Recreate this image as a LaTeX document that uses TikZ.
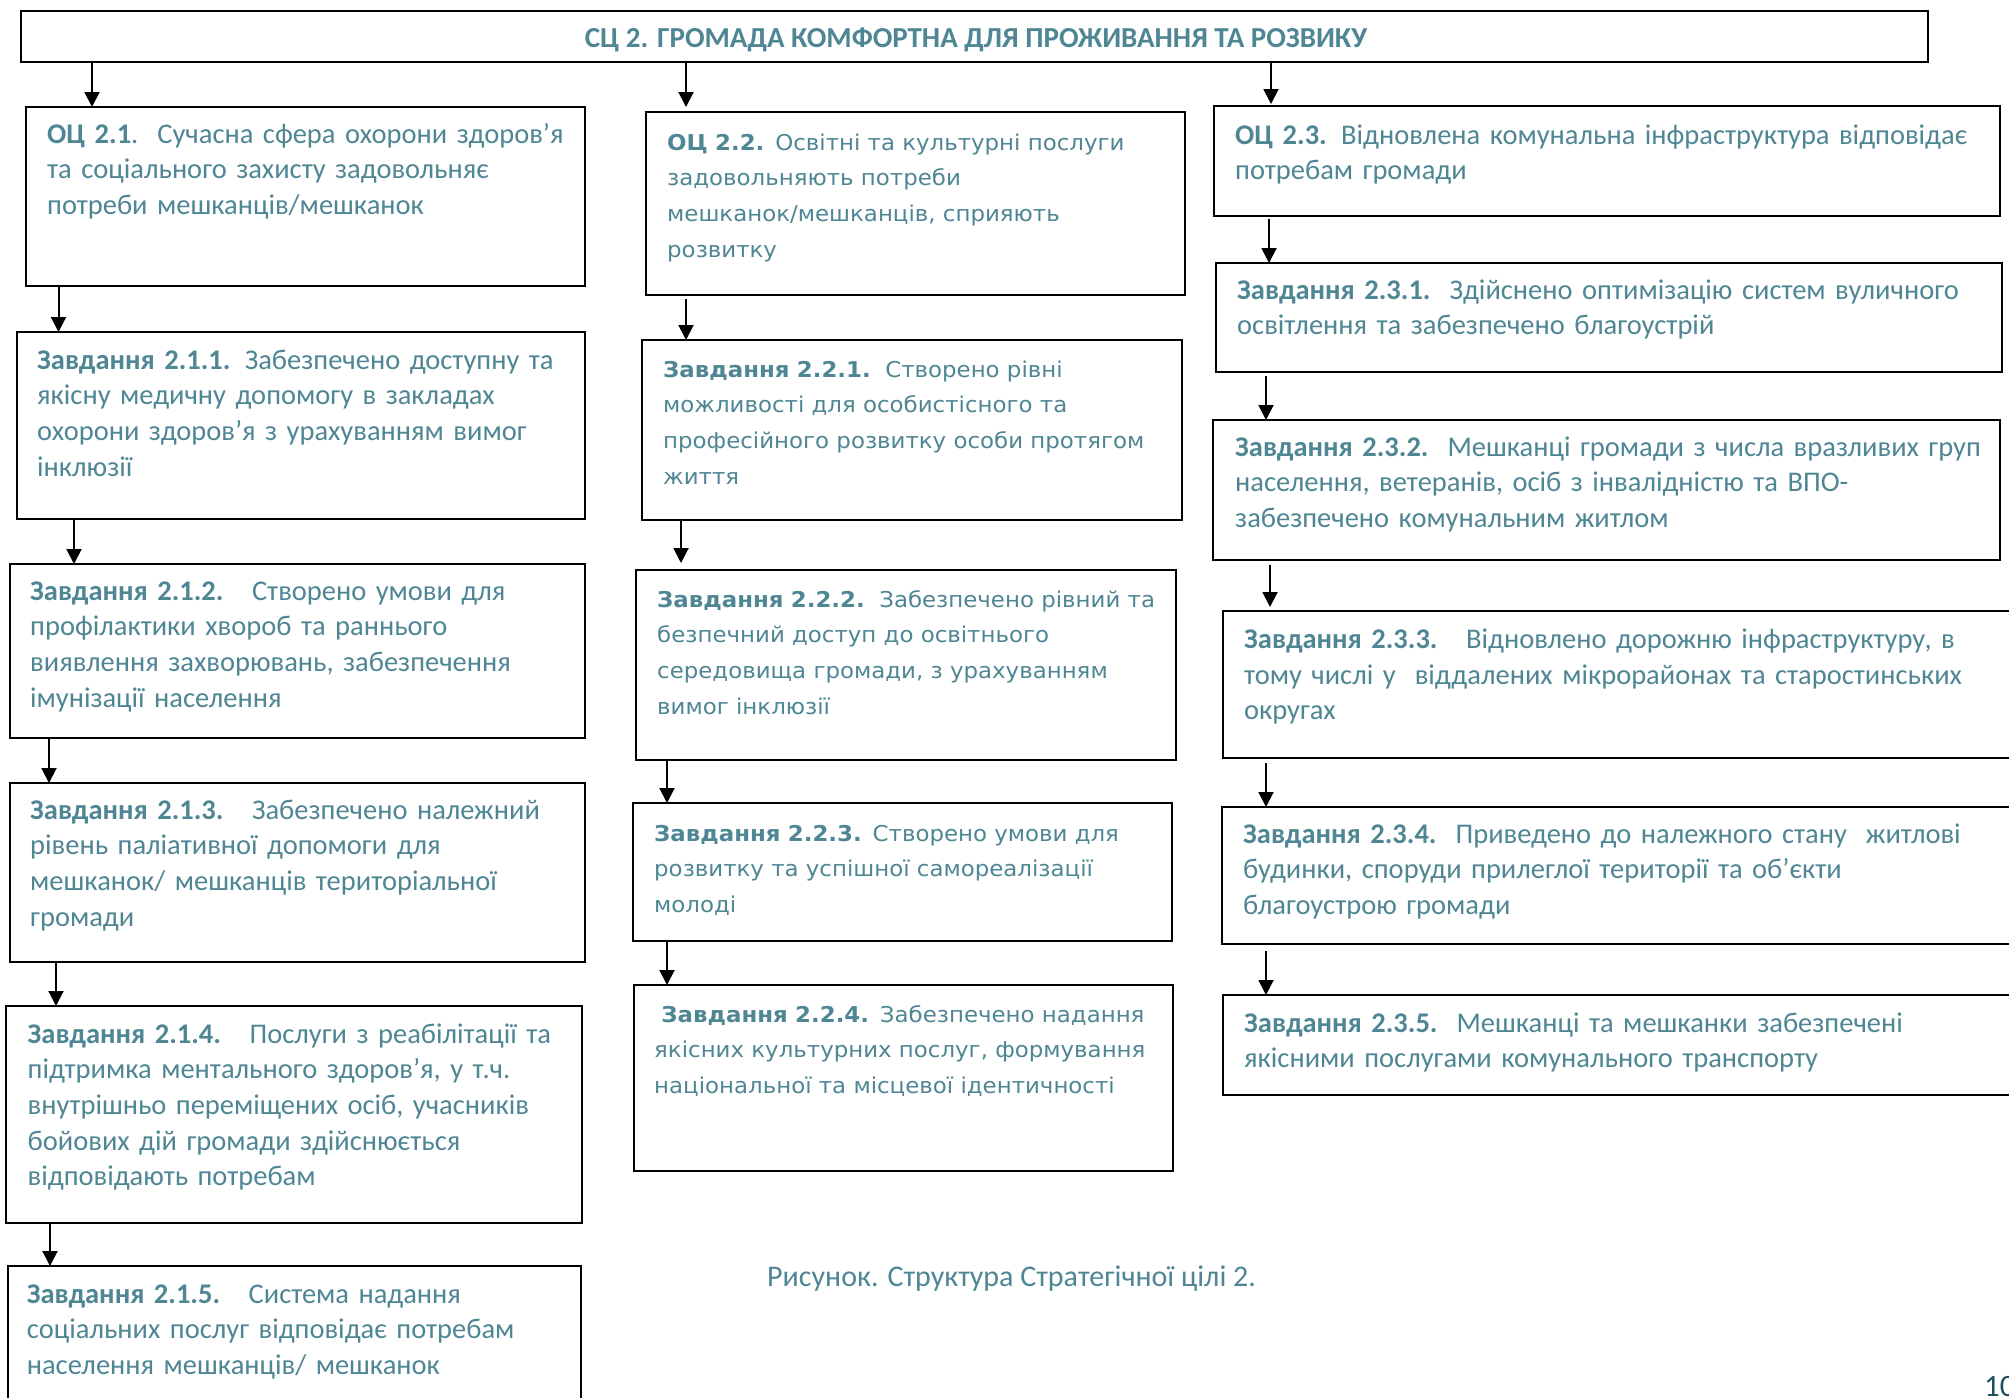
\documentclass[tikz,border=0pt]{standalone}
\usepackage{fontspec}
\setmainfont{Carlito}
\newfontfamily\verd[FakeStretch=1.05]{DejaVu Sans}
\usetikzlibrary{arrows.meta,fit,calc}
\definecolor{tx}{HTML}{4F8694}
\definecolor{pg}{HTML}{1F4E5F}
\begin{document}
\begin{tikzpicture}[x=1pt,y=-1pt,
 box/.style={draw=black, line width=2pt, inner sep=0pt, outer sep=0pt},
 arr/.style={line width=2pt, -{Triangle[length=15pt,width=15pt]}},
 ctx/.style={anchor=base west, inner sep=0pt, text width=900pt, align=left, text=tx, font=\fontsize{28.5}{35.7}\selectfont},
 vtx/.style={ctx, font=\verd\fontsize{21.8}{35.7}\selectfont},
]
\useasboundingbox (0,0) rectangle (2009,1397);
\fill[white] (0,0) rectangle (2009,1397);

% boxes
\node[box, fit={(21,11)(1928,62)}] (top) {};
\node[box, fit={(26,107)(585,286)}] (oc21) {};
\node[box, fit={(16.5,332)(585,519)}] (z211) {};
\node[box, fit={(10,564)(585,738)}] (z212) {};
\node[box, fit={(10,783)(585,962)}] (z213) {};
\node[box, fit={(6,1006)(582,1223)}] (z214) {};
\node[box, fit={(7.6,1266)(581,1420)}] (z215) {};
\node[box, fit={(646,112)(1185,295)}] (oc22) {};
\node[box, fit={(642,340)(1182,520)}] (z221) {};
\node[box, fit={(636,570)(1176,760)}] (z222) {};
\node[box, fit={(633,803)(1172,941)}] (z223) {};
\node[box, fit={(634,985)(1173,1171)}] (z224) {};
\node[box, fit={(1214,106)(2000,215.5)}] (oc23) {};
\node[box, fit={(1216,263)(2002,372)}] (z231) {};
\node[box, fit={(1213,420)(2000,559.5)}] (z232) {};
\node[box, fit={(1223,611)(2030,757.5)}] (z233) {};
\node[box, fit={(1222,807)(2030,943.6)}] (z234) {};
\node[box, fit={(1223,995)(2030,1095)}] (z235) {};

% title
\node[anchor=base, inner sep=0pt, text=tx, font=\bfseries\fontsize{29}{30}\selectfont] (title) at (976,48) {СЦ 2. ГРОМАДА КОМФОРТНА ДЛЯ ПРОЖИВАННЯ ТА РОЗВИКУ};

% column 1
\node[ctx] (toc21) at ($(oc21.north west)+(21,36)$) {\textbf{ОЦ 2.1}.~~Сучасна сфера охорони здоров’я\\та соціального захисту задовольняє\\потреби мешканців/мешканок};
\node[ctx] (tz211) at ($(z211.north west)+(20.5,37)$) {\textbf{Завдання 2.1.1.} Забезпечено доступну та\\якісну медичну допомогу в закладах\\охорони здоров’я з урахуванням вимог\\інклюзії};
\node[ctx] (tz212) at ($(z212.north west)+(20,36)$) {\textbf{Завдання 2.1.2.}~~~Створено умови для\\профілактики хвороб та раннього\\виявлення захворювань, забезпечення\\імунізації населення};
\node[ctx] (tz213) at ($(z213.north west)+(20,36)$) {\textbf{Завдання 2.1.3.}~~~Забезпечено належний\\рівень паліативної допомоги для\\мешканок/ мешканців територіальної\\громади};
\node[ctx] (tz214) at ($(z214.north west)+(21.5,37)$) {\textbf{Завдання 2.1.4.}~~~Послуги з реабілітації та\\підтримка ментального здоров’я, у т.ч.\\внутрішньо переміщених осіб, учасників\\бойових дій громади здійснюється\\відповідають потребам};
\node[ctx] (tz215) at ($(z215.north west)+(19,37)$) {\textbf{Завдання 2.1.5.}~~~Система надання\\соціальних послуг відповідає потребам\\населення мешканців/ мешканок};

% column 2
\node[vtx] (toc22) at ($(oc22.north west)+(21,38)$) {\textbf{ОЦ 2.2.} Освітні та культурні послуги\\задовольняють потреби\\мешканок/мешканців, сприяють\\розвитку};
\node[vtx] (tz221) at ($(z221.north west)+(21,37)$) {\textbf{Завдання 2.2.1.}~~Створено рівні\\можливості для особистісного та\\професійного розвитку особи протягом\\життя};
\node[vtx] (tz222) at ($(z222.north west)+(21,37)$) {\textbf{Завдання 2.2.2.}~~Забезпечено рівний та\\безпечний доступ до освітнього\\середовища громади, з урахуванням\\вимог інклюзії};
\node[vtx] (tz223) at ($(z223.north west)+(21,38)$) {\textbf{Завдання 2.2.3.} Створено умови для\\розвитку та успішної самореалізації\\молоді};
\node[vtx] (tz224) at ($(z224.north west)+(20,37)$) {~\textbf{Завдання 2.2.4.} Забезпечено надання\\якісних культурних послуг, формування\\національної та місцевої ідентичності};

% column 3
\node[ctx] (toc23) at ($(oc23.north west)+(21,38)$) {\textbf{ОЦ 2.3.} Відновлена комунальна інфраструктура відповідає\\потребам громади};
\node[ctx] (tz231) at ($(z231.north west)+(21,36)$) {\textbf{Завдання 2.3.1.}~~Здійснено оптимізацію систем вуличного\\освітлення та забезпечено благоустрій};
\node[ctx] (tz232) at ($(z232.north west)+(22,36)$) {\textbf{Завдання 2.3.2.}~~Мешканці громади з числа вразливих груп\\населення, ветеранів, осіб з інвалідністю та ВПО-\\забезпечено комунальним житлом};
\node[ctx] (tz233) at ($(z233.north west)+(21,37.5)$) {\textbf{Завдання 2.3.3.}~~~Відновлено дорожню інфраструктуру, в\\тому числі у~~віддалених мікрорайонах та старостинських\\округах};
\node[ctx] (tz234) at ($(z234.north west)+(21,36)$) {\textbf{Завдання 2.3.4.}~~Приведено до належного стану~~житлові\\будинки, споруди прилеглої території та об’єкти\\благоустрою громади};
\node[ctx] (tz235) at ($(z235.north west)+(21,37)$) {\textbf{Завдання 2.3.5.}~~Мешканці та мешканки забезпечені\\якісними послугами комунального транспорту};

% caption and page number
\node[anchor=base west, inner sep=0pt, text=tx, font=\fontsize{30}{32}\selectfont] (cap) at (767,1286) {Рисунок. Структура Стратегічної цілі 2.};
\node[anchor=base west, inner sep=0pt, text=pg, font=\fontsize{31}{31}\selectfont] (pnum) at (1984,1396) {10};

% arrow x positions
\coordinate (xa0) at (92,0);
\coordinate (xa1) at (686,0);
\coordinate (xa2) at (1271,0);
\coordinate (xa3) at (58.5,0);
\coordinate (xa4) at (74,0);
\coordinate (xa5) at (49,0);
\coordinate (xa6) at (56,0);
\coordinate (xa7) at (50,0);
\coordinate (xa9) at (681,0);
\coordinate (xa10) at (667,0);
\coordinate (xa12) at (1269,0);
\coordinate (xa13) at (1266,0);
\coordinate (xa14) at (1270,0);

\draw[arr] (xa0 |- top.south) -- (xa0 |- oc21.north);
\draw[arr, shorten >=5pt] (xa1 |- top.south) -- (xa1 |- oc22.north);
\draw[arr, shorten >=2pt] (xa2 |- top.south) -- (xa2 |- oc23.north);
\draw[arr] (xa3 |- oc21.south) -- (xa3 |- z211.north);
\draw[arr] (xa4 |- z211.south) -- (xa4 |- z212.north);
\draw[arr] (xa5 |- z212.south) -- (xa5 |- z213.north);
\draw[arr] (xa6 |- z213.south) -- (xa6 |- z214.north);
\draw[arr] (xa7 |- z214.south) -- (xa7 |- z215.north);
\draw[arr, shorten <=4pt] (xa1 |- oc22.south) -- (xa1 |- z221.north);
\draw[arr, shorten >=7pt] (xa9 |- z221.south) -- (xa9 |- z222.north);
\draw[arr] (xa10 |- z222.south) -- (xa10 |- z223.north);
\draw[arr] (xa10 |- z223.south) -- (xa10 |- z224.north);
\draw[arr, shorten <=3.5pt] (xa12 |- oc23.south) -- (xa12 |- z231.north);
\draw[arr, shorten <=4pt] (xa13 |- z231.south) -- (xa13 |- z232.north);
\draw[arr, shorten <=5pt, shorten >=4pt] (xa14 |- z232.south) -- (xa14 |- z233.north);
\draw[arr, shorten <=5.5pt] (xa13 |- z233.south) -- (xa13 |- z234.north);
\draw[arr, shorten <=7pt] (xa13 |- z234.south) -- (xa13 |- z235.north);
\end{tikzpicture}
\end{document}
